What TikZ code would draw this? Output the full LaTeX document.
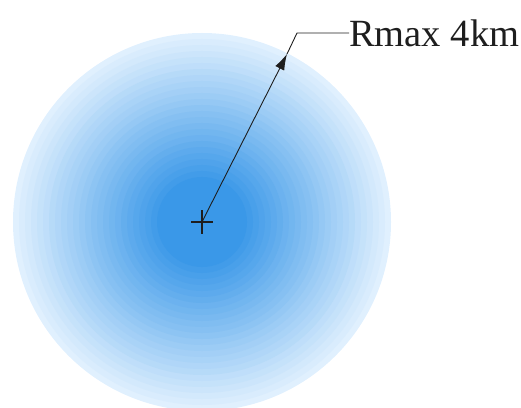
\documentclass[tikz,border=0pt]{standalone}
\usepackage{xcolor}
\usepackage{fontspec}
\setmainfont{Liberation Serif}
\usepackage{tikz}
\usetikzlibrary{arrows.meta, positioning, calc}
\definecolor{zonecore}{RGB}{58, 152, 232}
\definecolor{zoneedge}{RGB}{224, 240, 254}
\definecolor{darktext}{RGB}{30, 30, 30}
\tikzset{
    zonering/.style={fill=#1, draw=none},
    radiusline/.style={draw=darktext, line width=1.1pt},
    labeltext/.style={font=\fontsize{38.5}{41}\selectfont, text=darktext, inner sep=0pt}
}

\begin{document}
\begin{tikzpicture}[x=1pt, y=1pt]
    \useasboundingbox (0,0) rectangle (521,407);
    % shaded zone, drawn ring by ring from outside in
    \coordinate (ctr) at (202,185);
    \foreach \k in {0,...,24}{
        \pgfmathsetmacro{\rad}{189-\k*6}
        \pgfmathtruncatemacro{\mix}{\k*100/24}
        \fill[zonering=zonecore!\mix!zoneedge] (ctr) circle (\rad);
    }
    % centre mark
    \draw[radiusline] ($(ctr)+(-11,0)$) -- ($(ctr)+(11,0)$);
    \draw[radiusline] ($(ctr)+(0,-12)$) -- ($(ctr)+(0,12)$);
    % radius arrow and label
    \coordinate (tip) at (287,353);
    \coordinate (knee) at (297,374);
    \node[labeltext, anchor=west] (rmax) at (349,374) {Rmax 4km};
    \draw[radiusline, line width=0.9pt, -{Latex[length=16pt, width=10pt]}] (ctr) -- (tip);
    \draw[radiusline, line width=0.9pt] (tip) -- (knee) -- (rmax.west);
\end{tikzpicture}
\end{document}
